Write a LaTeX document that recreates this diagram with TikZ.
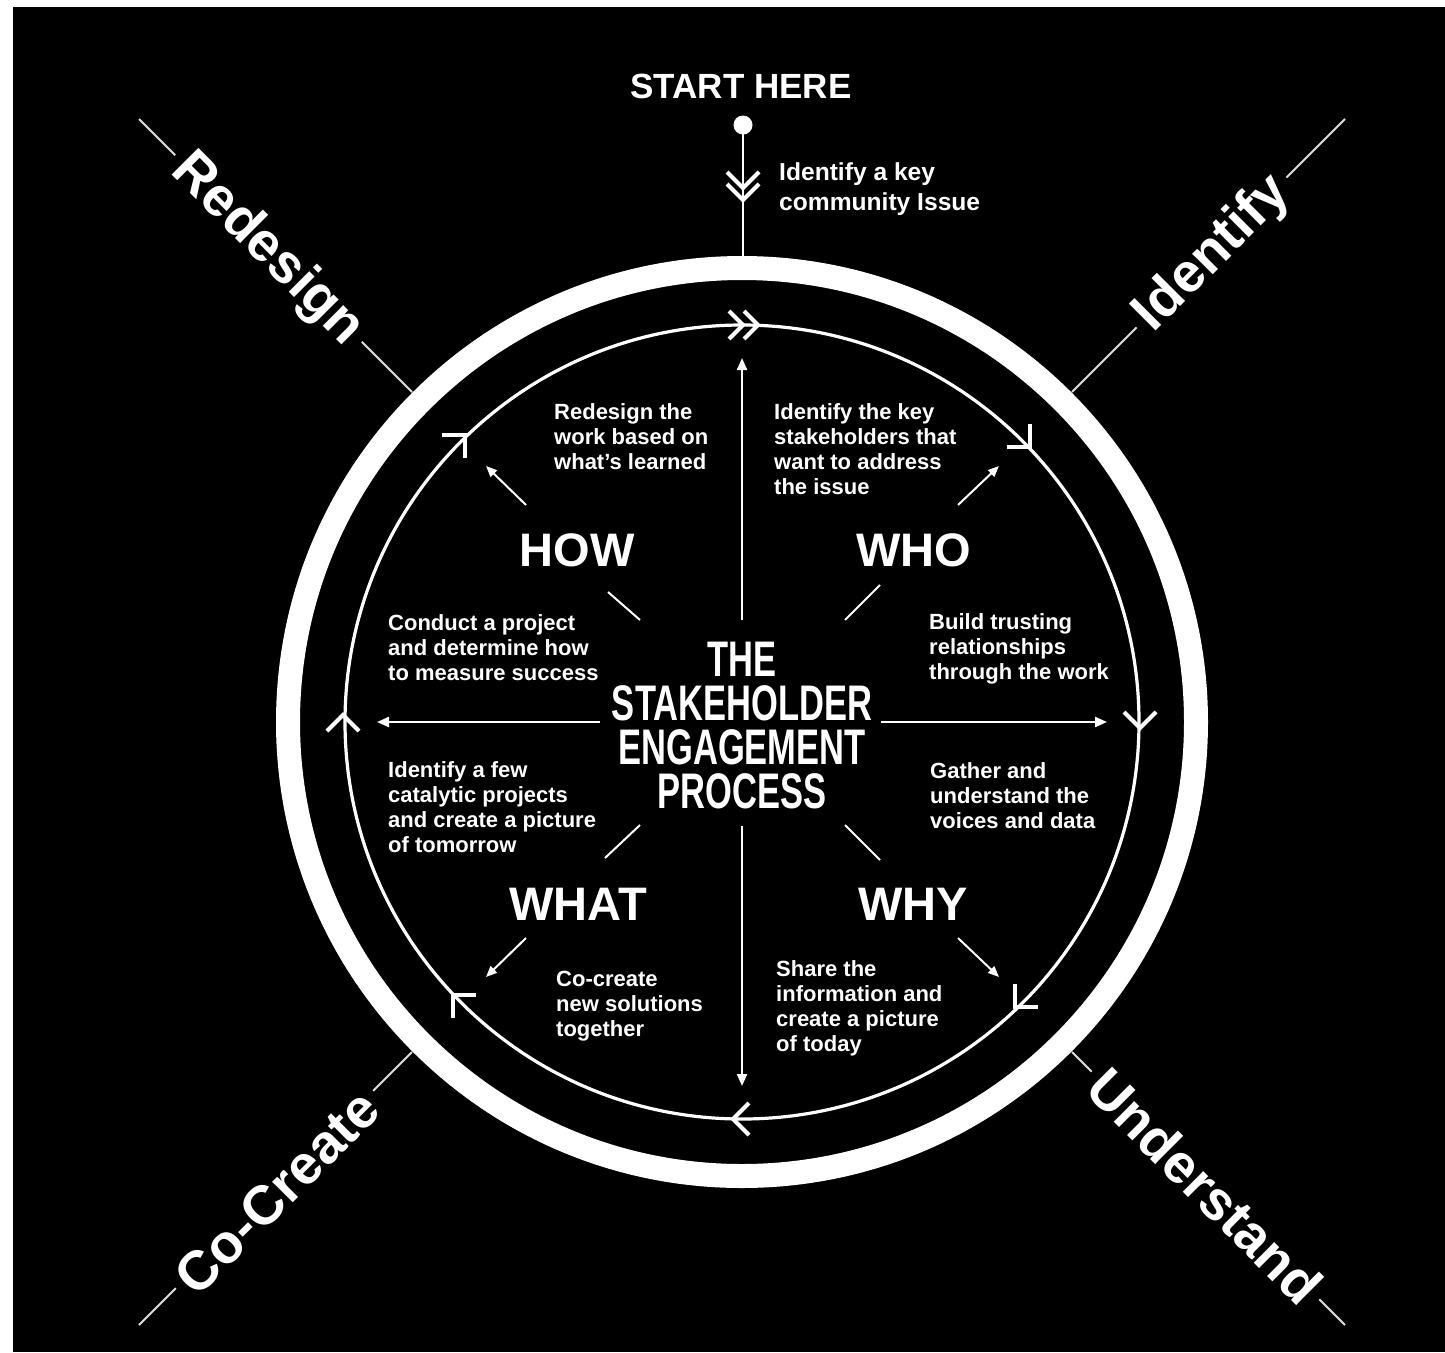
\documentclass[tikz,border=0pt]{standalone}
\usepackage{fontspec}
\setmainfont{Liberation Sans}
\usetikzlibrary{arrows.meta}
\newcommand\mychev[4]{\draw[chev, shift={(#1,#2)}, rotate=#3] (-#4,#4) -- (0,0) -- (-#4,-#4);}
\begin{document}
\begin{tikzpicture}[x=1pt,y=-1pt,
  ring/.style={draw=white, line width=24pt},
  orbit/.style={draw=white, line width=3.2pt},
  chev/.style={draw=white, line width=4pt, line cap=butt, line join=miter},
  axisline/.style={draw=white, line width=2.2pt, -{Triangle[length=12pt,width=10pt]}},
  diagarrow/.style={draw=white, line width=2pt, -{Triangle[length=11pt,width=9pt]}},
  tick/.style={draw=white, line width=2pt},
  ray/.style={draw=white!88!black, line width=2pt},
  phase/.style={text=white, fill=black, font=\bfseries\fontsize{55}{58}\selectfont, inner xsep=8pt, inner ysep=2pt},
  head/.style={text=white, font=\bfseries\fontsize{47}{50}\selectfont, anchor=base, inner sep=0pt},
  body/.style={text=white, font=\bfseries\fontsize{22}{24.8}\selectfont, align=left, anchor=base west, inner sep=0pt},
  title/.style={text=white, font=\bfseries\fontsize{50}{50}\selectfont, anchor=base, inner sep=0pt},
]
\useasboundingbox (0,0) rectangle (1445,1352);
\fill[white] (0,0) rectangle (1445,1352);
\fill[black] (13,7) rectangle (1445,1352);

% diagonal rays
\coordinate (nwA) at (412,392); \coordinate (nwB) at (139,119);
\coordinate (neA) at (1072,392); \coordinate (neB) at (1345,119);
\coordinate (seA) at (1072,1052); \coordinate (seB) at (1345,1325);
\coordinate (swA) at (412,1052); \coordinate (swB) at (139,1325);
\draw[ray] (nwA) -- (nwB);
\draw[ray] (neA) -- (neB);
\draw[ray] (seA) -- (seB);
\draw[ray] (swA) -- (swB);
\node[phase, rotate=-45] (redesign) at (267,250) {Redesign};
\node[phase, rotate=45] (identify) at (1213,254) {Identify};
\node[phase, rotate=-45] (understand) at (1205,1186) {Understand};
\node[phase, rotate=45] (cocreate) at (277,1192) {Co-Create};

% outer ring and inner orbit
\draw[ring] (742,722) circle (454pt);
\draw[orbit] (742,722) circle (397pt);

% start
\node[text=white, font=\bfseries\fontsize{35}{38}\selectfont, anchor=base, inner sep=0pt] (start) at (741,98) {START HERE};
\node[circle, fill=white, inner sep=0pt, minimum size=19pt] (dot) at (743,125) {};
\coordinate (ringtop) at (743,257);
\draw[white, line width=2.4pt] (dot.center) -- (ringtop);
\mychev{743}{188}{-90}{16}
\mychev{743}{200}{-90}{16}
\node[text=white, font=\bfseries\fontsize{24.6}{30}\selectfont, align=left, anchor=base west, inner sep=0pt] (issue) at (779,210) {Identify a key\\community Issue};

% orbit chevrons
\mychev{758}{325}{0}{14}
\mychev{743}{325}{0}{14}
\mychev{1030}{447}{-45}{16}
\mychev{1140}{728}{-90}{16}
\mychev{1015}{1007}{-135}{16}
\mychev{733}{1119}{180}{16}
\mychev{453}{995}{135}{16}
\mychev{343}{715}{90}{16}
\mychev{465}{435}{45}{16}

% title
\node[title] (t1) at (742,676) {\scalebox{0.69}[1]{THE}};
\node[title] (t2) at (742,720) {\scalebox{0.69}[1]{STAKEHOLDER}};
\node[title] (t3) at (742,764) {\scalebox{0.69}[1]{ENGAGEMENT}};
\node[title] (t4) at (742,808) {\scalebox{0.69}[1]{PROCESS}};

% axes
\coordinate (up0) at (742,620); \coordinate (up1) at (742,358);
\coordinate (dn0) at (742,826); \coordinate (dn1) at (742,1086);
\coordinate (lf0) at (600,722); \coordinate (lf1) at (377,722);
\coordinate (rt0) at (881,722); \coordinate (rt1) at (1107,722);
\draw[axisline] (up0) -- (up1);
\draw[axisline] (dn0) -- (dn1);
\draw[axisline] (lf0) -- (lf1);
\draw[axisline] (rt0) -- (rt1);

% headings
\node[head] (how) at (577,566) {HOW};
\node[head] (who) at (914,566) {WHO};
\node[head] (what) at (578,920) {WHAT};
\node[head] (why) at (913,920) {WHY};

% ticks near center
\coordinate (k1a) at (608,592); \coordinate (k1b) at (640,620);
\coordinate (k2a) at (845,620); \coordinate (k2b) at (880,585);
\coordinate (k3a) at (605,858); \coordinate (k3b) at (640,825);
\coordinate (k4a) at (845,825); \coordinate (k4b) at (880,860);
\draw[tick] (k1a) -- (k1b);
\draw[tick] (k2a) -- (k2b);
\draw[tick] (k3a) -- (k3b);
\draw[tick] (k4a) -- (k4b);

% small diagonal arrows
\coordinate (d1a) at (526,505); \coordinate (d1b) at (486,466);
\coordinate (d2a) at (958,505); \coordinate (d2b) at (999,466);
\coordinate (d3a) at (526,938); \coordinate (d3b) at (486,977);
\coordinate (d4a) at (958,938); \coordinate (d4b) at (999,977);
\draw[diagarrow] (d1a) -- (d1b);
\draw[diagarrow] (d2a) -- (d2b);
\draw[diagarrow] (d3a) -- (d3b);
\draw[diagarrow] (d4a) -- (d4b);

% body texts (anchored at the baseline of their last line)
\node[body] (b1) at (554,469) {Redesign the\\work based on\\what’s learned};
\node[body] (b2) at (774,494) {Identify the key\\stakeholders that\\want to address\\the issue};
\node[body] (b3) at (388,680) {Conduct a project\\and determine how\\to measure success};
\node[body] (b4) at (929,679) {Build trusting\\relationships\\through the work};
\node[body] (b5) at (388,852) {Identify a few\\catalytic projects\\and create a picture\\of tomorrow};
\node[body] (b6) at (930,828) {Gather and\\understand the\\voices and data};
\node[body] (b7) at (556,1036) {Co-create\\new solutions\\together};
\node[body] (b8) at (776,1051) {Share the\\information and\\create a picture\\of today};
\end{tikzpicture}
\end{document}
